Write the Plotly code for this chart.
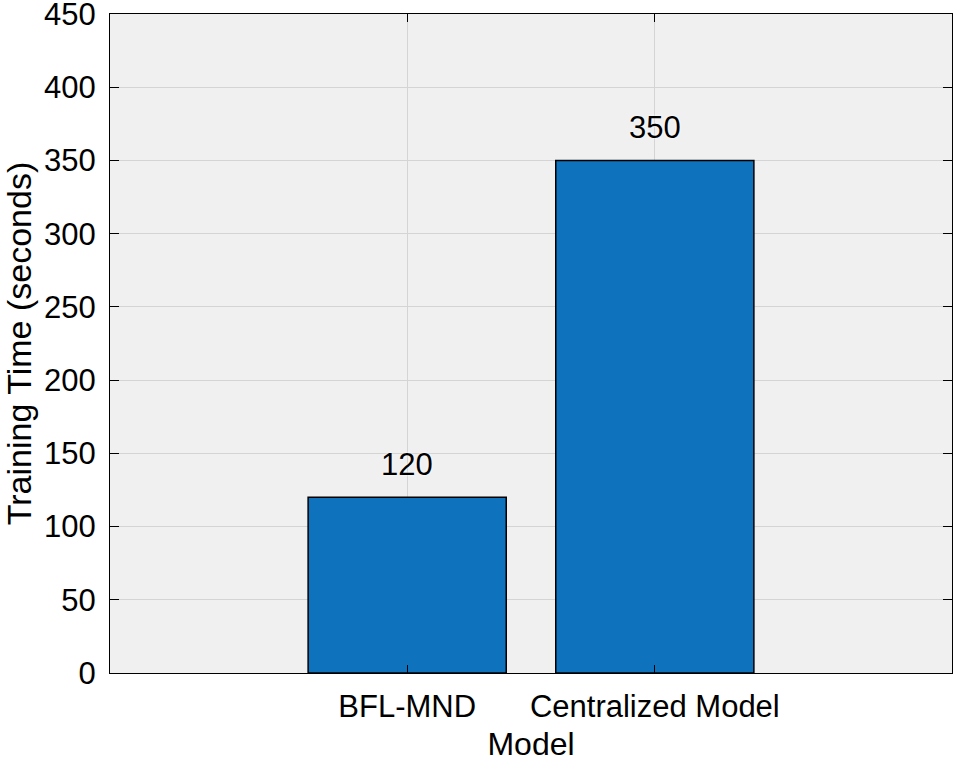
import plotly.graph_objects as go

models = ["BFL-MND", "Centralized Model"]
training_time = [120, 350]
y_ticks = [0, 50, 100, 150, 200, 250, 300, 350, 400, 450]

FONT = "Liberation Sans, Arial, sans-serif"

fig = go.Figure()
fig.add_trace(go.Bar(
    x=models, y=training_time, width=0.8,
    marker=dict(color="#0f72bd", line=dict(color="black", width=1.5)),
    showlegend=False, hoverinfo="skip",
))
for m, v in zip(models, training_time):
    fig.add_annotation(
        x=m, y=v, text=str(v), showarrow=False, yanchor="bottom", yshift=13,
        font=dict(family=FONT, size=31, color="black", shadow="0px 0px 3px white"),
    )

fig.update_layout(
    width=956, height=762,
    margin=dict(l=110, r=4, t=14, b=89),
    paper_bgcolor="white", plot_bgcolor="#f0f0f0",
    font=dict(family=FONT, color="black"),
)
fig.update_xaxes(
    type="category", range=[-1.2, 2.2], automargin=False,
    showline=True, linecolor="black", linewidth=1.2, mirror="ticks",
    ticks="inside", ticklen=8, tickcolor="black", tickwidth=1.2,
    showgrid=True, gridcolor="#d4d4d4", gridwidth=1,
    tickfont=dict(size=31), ticklabelstandoff=6, ticklabeloverflow="allow",
    title=dict(text="Model", font=dict(size=32), standoff=17),
)
fig.update_yaxes(
    range=[0, 450], tickvals=y_ticks, automargin=False,
    showline=True, linecolor="black", linewidth=1.2, mirror="ticks",
    ticks="inside", ticklen=9, tickcolor="black", tickwidth=1.2,
    showgrid=True, gridcolor="#d4d4d4", gridwidth=1, zeroline=False,
    tickfont=dict(size=31), ticklabelstandoff=7, ticklabeloverflow="allow",
    title=dict(text="Training Time (seconds)", font=dict(size=34), standoff=16),
)

fig.write_html(
    "out.html",
    config={"displayModeBar": False},
    post_script="document.body.style.margin='0';",
)
